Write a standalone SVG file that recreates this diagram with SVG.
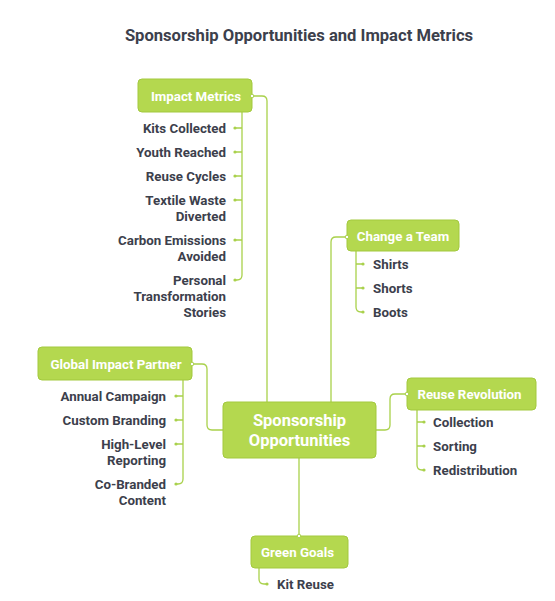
<svg xmlns="http://www.w3.org/2000/svg" width="555" height="601" viewBox="0 0 555 601">
<style>
.bg{fill:#ffffff}
.box{fill:#b4d84f;stroke:#a3c93f;stroke-width:1}
.bt{font-family:Roboto,"Liberation Sans",sans-serif;font-weight:700;font-size:13.3px;fill:#ffffff}
.ct{font-family:Roboto,"Liberation Sans",sans-serif;font-weight:700;font-size:16.5px;fill:#ffffff}
.lt{font-family:Roboto,"Liberation Sans",sans-serif;font-weight:700;font-size:13.3px;fill:#3c404c}
.title{font-family:Roboto,"Liberation Sans",sans-serif;font-weight:700;font-size:16.6px;fill:#3c404c}
.ln{fill:none;stroke:#a9d14b;stroke-width:1.3}
.d{fill:#a9d14b}
.w{fill:#ffffff;stroke:#a9d14b;stroke-width:1}
</style>
<rect class="bg" x="0" y="0" width="555" height="601"/>
<text class="title" x="299" y="41" text-anchor="middle">Sponsorship Opportunities and Impact Metrics</text>

<g id="connectors">
  <path class="ln" d="M252,96 H262 Q267,96 267,101 V402"/>
  <path class="ln" d="M331,402 V242 Q331,237 336,237 H347"/>
  <path class="ln" d="M192,364 H202 Q207,364 207,369 V425 Q207,430 212,430 H223"/>
  <path class="ln" d="M376,430 H385 Q390,430 390,425 V399 Q390,394 395,394 H407"/>
  <path class="ln" d="M299,458 V536"/>
  <path class="ln" d="M242,112 V275 Q242,280 237,280 H235"/>
  <path class="ln" d="M242,128 H235 M242,152 H235 M242,176 H235 M242,200 H235 M242,240 H235"/>
  <path class="ln" d="M356,251 V307 Q356,312 361,312 H363"/>
  <path class="ln" d="M356,264 H363 M356,288 H363"/>
  <path class="ln" d="M183,380 V479 Q183,484 178,484 H176"/>
  <path class="ln" d="M183,396 H176 M183,420 H176 M183,444 H176"/>
  <path class="ln" d="M417,410 V465 Q417,470 422,470 H424"/>
  <path class="ln" d="M417,422 H424 M417,446 H424"/>
  <path class="ln" d="M259,568 V579 Q259,584 264,584 H267"/>
  <circle class="d" cx="235" cy="128" r="1.6"/>
  <circle class="d" cx="235" cy="152" r="1.6"/>
  <circle class="d" cx="235" cy="176" r="1.6"/>
  <circle class="d" cx="235" cy="200" r="1.6"/>
  <circle class="d" cx="235" cy="240" r="1.6"/>
  <circle class="d" cx="235" cy="280" r="1.6"/>
  <circle class="d" cx="363" cy="264" r="1.6"/>
  <circle class="d" cx="363" cy="288" r="1.6"/>
  <circle class="d" cx="363" cy="312" r="1.6"/>
  <circle class="d" cx="176" cy="396" r="1.6"/>
  <circle class="d" cx="176" cy="420" r="1.6"/>
  <circle class="d" cx="176" cy="444" r="1.6"/>
  <circle class="d" cx="176" cy="484" r="1.6"/>
  <circle class="d" cx="424" cy="422" r="1.6"/>
  <circle class="d" cx="424" cy="446" r="1.6"/>
  <circle class="d" cx="424" cy="470" r="1.6"/>
  <circle class="d" cx="267" cy="584" r="1.6"/>
</g>

<g id="center">
  <rect class="box" x="223" y="402" width="153" height="56" rx="4"/>
  <text class="ct" x="299.5" y="426" text-anchor="middle">Sponsorship</text>
  <text class="ct" x="299.5" y="446" text-anchor="middle">Opportunities</text>
</g>

<g id="impact-metrics">
  <rect class="box" x="138" y="79" width="114" height="33" rx="4"/>
  <text class="bt" x="196" y="100.5" text-anchor="middle">Impact Metrics</text>
  <circle class="w" cx="252" cy="96" r="1.8"/>
  <text class="lt" x="226" y="132.5" text-anchor="end">Kits Collected</text>
  <text class="lt" x="226" y="156.5" text-anchor="end">Youth Reached</text>
  <text class="lt" x="226" y="180.5" text-anchor="end">Reuse Cycles</text>
  <text class="lt" x="226" y="204.5" text-anchor="end">Textile Waste</text>
  <text class="lt" x="226" y="220.5" text-anchor="end">Diverted</text>
  <text class="lt" x="226" y="244.5" text-anchor="end">Carbon Emissions</text>
  <text class="lt" x="226" y="260.5" text-anchor="end">Avoided</text>
  <text class="lt" x="226" y="284.5" text-anchor="end">Personal</text>
  <text class="lt" x="226" y="300.5" text-anchor="end">Transformation</text>
  <text class="lt" x="226" y="316.5" text-anchor="end">Stories</text>
</g>

<g id="change-a-team">
  <rect class="box" x="347" y="220" width="112" height="31" rx="4"/>
  <text class="bt" x="403" y="240.5" text-anchor="middle">Change a Team</text>
  <circle class="w" cx="347" cy="237" r="1.8"/>
  <text class="lt" x="373" y="268.5">Shirts</text>
  <text class="lt" x="373" y="292.5">Shorts</text>
  <text class="lt" x="373" y="316.5">Boots</text>
</g>

<g id="global-impact-partner">
  <rect class="box" x="38" y="347" width="154" height="33" rx="4"/>
  <text class="bt" x="116" y="368.5" text-anchor="middle">Global Impact Partner</text>
  <circle class="w" cx="192" cy="364" r="1.8"/>
  <text class="lt" x="166" y="400.5" text-anchor="end">Annual Campaign</text>
  <text class="lt" x="166" y="424.5" text-anchor="end">Custom Branding</text>
  <text class="lt" x="166" y="448.5" text-anchor="end">High-Level</text>
  <text class="lt" x="166" y="464.5" text-anchor="end">Reporting</text>
  <text class="lt" x="166" y="488.5" text-anchor="end">Co-Branded</text>
  <text class="lt" x="166" y="504.5" text-anchor="end">Content</text>
</g>

<g id="reuse-revolution">
  <rect class="box" x="407" y="378" width="129" height="32" rx="4"/>
  <text class="bt" x="469.5" y="398.5" text-anchor="middle">Reuse Revolution</text>
  <circle class="w" cx="407" cy="394" r="1.8"/>
  <text class="lt" x="433" y="426.5">Collection</text>
  <text class="lt" x="433" y="450.5">Sorting</text>
  <text class="lt" x="433" y="474.5">Redistribution</text>
</g>

<g id="green-goals">
  <rect class="box" x="251" y="536" width="97" height="32" rx="4"/>
  <text class="bt" x="297.5" y="556.5" text-anchor="middle">Green Goals</text>
  <circle class="w" cx="299" cy="536" r="1.8"/>
  <text class="lt" x="277" y="588.5">Kit Reuse</text>
</g>
</svg>
